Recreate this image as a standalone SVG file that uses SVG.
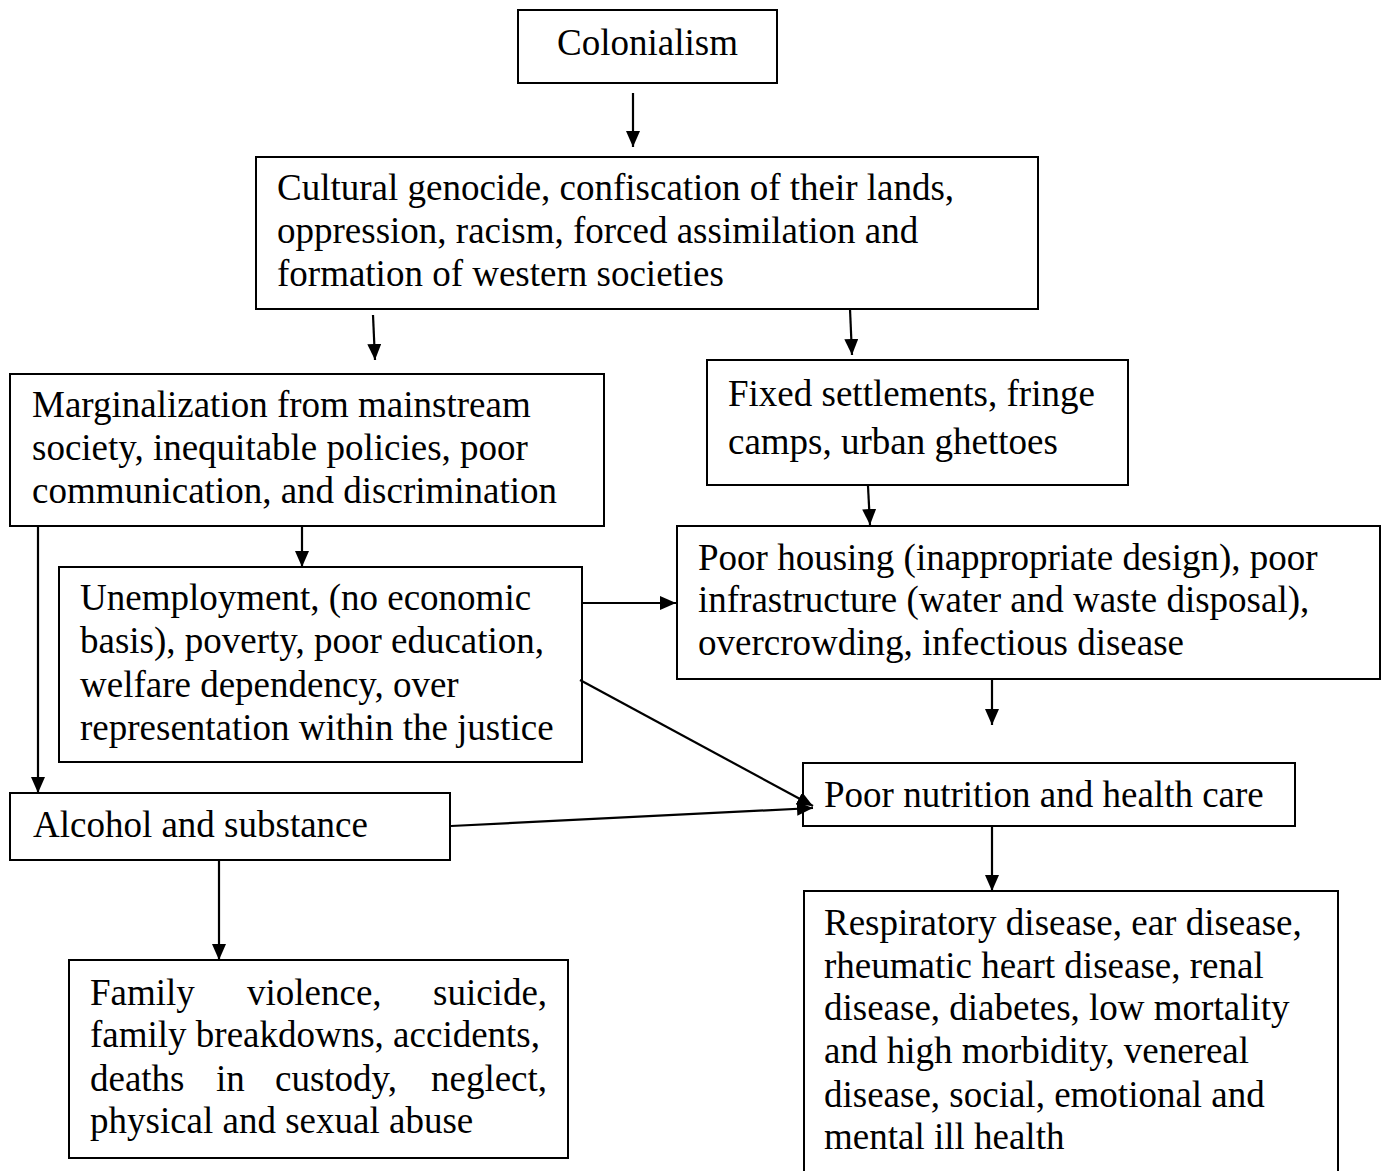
<svg xmlns="http://www.w3.org/2000/svg" width="1383" height="1171" viewBox="0 0 1383 1171">
<style>
.box{fill:#fff;stroke:#000;stroke-width:2}
.t{font-family:"Liberation Serif","Times New Roman",serif;font-size:37px;fill:#000}
.c{stroke:#000;stroke-width:2.2;fill:none;marker-end:url(#ah)}
</style>
<defs>
<marker id="ah" markerUnits="userSpaceOnUse" markerWidth="17" markerHeight="15" refX="16" refY="7" orient="auto">
<path d="M0,0 L16,7 L0,14 z" fill="#000"/>
</marker>
</defs>
<rect width="1383" height="1171" fill="#fff"/>
<g id="colonialism">
<rect class="box" x="518" y="10" width="259" height="73"/>
<text class="t" x="647.5" y="55" text-anchor="middle">Colonialism</text>
</g>
<g id="cultural">
<rect class="box" x="256" y="157" width="782" height="152"/>
<text class="t" x="277" y="200">Cultural genocide, confiscation of their lands,</text>
<text class="t" x="277" y="243">oppression, racism, forced assimilation and</text>
<text class="t" x="277" y="286">formation of western societies</text>
</g>
<g id="marginalization">
<rect class="box" x="10" y="374" width="594" height="152"/>
<text class="t" x="32" y="417">Marginalization from mainstream</text>
<text class="t" x="32" y="460">society, inequitable policies, poor</text>
<text class="t" x="32" y="503">communication, and discrimination</text>
</g>
<g id="fixed">
<rect class="box" x="707" y="360" width="421" height="125"/>
<text class="t" x="728" y="406">Fixed settlements, fringe</text>
<text class="t" x="728" y="454">camps, urban ghettoes</text>
</g>
<g id="housing">
<rect class="box" x="677" y="526" width="703" height="153"/>
<text class="t" x="698" y="570">Poor housing (inappropriate design), poor</text>
<text class="t" x="698" y="612">infrastructure (water and waste disposal),</text>
<text class="t" x="698" y="655">overcrowding, infectious disease</text>
</g>
<g id="unemployment">
<rect class="box" x="59" y="567" width="523" height="195"/>
<text class="t" x="80" y="610">Unemployment, (no economic</text>
<text class="t" x="80" y="653">basis), poverty, poor education,</text>
<text class="t" x="80" y="697">welfare dependency, over</text>
<text class="t" x="80" y="740">representation within the justice</text>
</g>
<g id="alcohol">
<rect class="box" x="10" y="793" width="440" height="67"/>
<text class="t" x="33" y="837">Alcohol and substance</text>
</g>
<g id="nutrition">
<rect class="box" x="803" y="763" width="492" height="63"/>
<text class="t" x="824" y="807">Poor nutrition and health care</text>
</g>
<g id="family">
<rect class="box" x="69" y="960" width="499" height="198"/>
<text class="t" y="1005"><tspan x="90">Family</tspan><tspan x="247">violence,</tspan><tspan x="433">suicide,</tspan></text>
<text class="t" x="90" y="1047">family breakdowns, accidents,</text>
<text class="t" y="1091"><tspan x="90">deaths</tspan><tspan x="216">in</tspan><tspan x="275">custody,</tspan><tspan x="431">neglect,</tspan></text>
<text class="t" x="90" y="1133">physical and sexual abuse</text>
</g>
<g id="respiratory">
<rect class="box" x="804" y="891" width="534" height="300"/>
<text class="t" x="824" y="935">Respiratory disease, ear disease,</text>
<text class="t" x="824" y="978">rheumatic heart disease, renal</text>
<text class="t" x="824" y="1020">disease, diabetes, low mortality</text>
<text class="t" x="824" y="1063">and high morbidity, venereal</text>
<text class="t" x="824" y="1107">disease, social, emotional and</text>
<text class="t" x="824" y="1149">mental ill health</text>
</g>
<g id="connectors">
<line class="c" x1="633" y1="93" x2="633" y2="147"/>
<line class="c" x1="373" y1="315" x2="375" y2="360"/>
<line class="c" x1="850" y1="309" x2="852" y2="355"/>
<line class="c" x1="302" y1="526" x2="302" y2="567"/>
<line class="c" x1="38" y1="526" x2="38" y2="793"/>
<line class="c" x1="868" y1="486" x2="870" y2="525"/>
<line class="c" x1="582" y1="603" x2="676" y2="603"/>
<line class="c" x1="580" y1="680" x2="813" y2="806"/>
<line class="c" x1="451" y1="826" x2="813" y2="808"/>
<line class="c" x1="992" y1="680" x2="992" y2="725"/>
<line class="c" x1="992" y1="827" x2="992" y2="891"/>
<line class="c" x1="219" y1="861" x2="219" y2="960"/>
</g>
</svg>
